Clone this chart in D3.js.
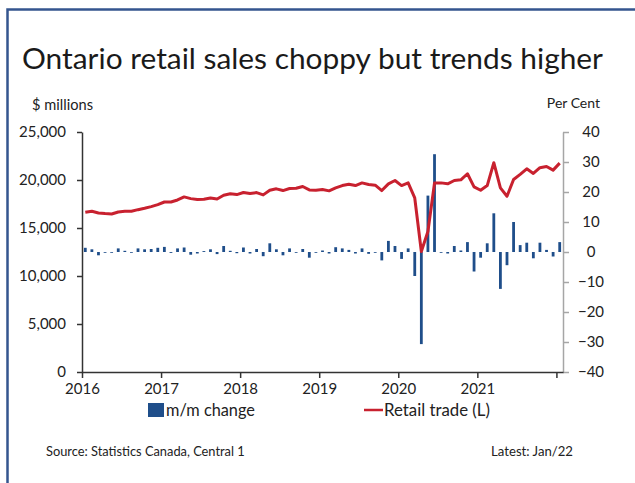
<!DOCTYPE html>
<html>
<head>
<meta charset="utf-8">
<script src="https://cdn.jsdelivr.net/npm/d3@7"></script>
<style>
  html, body { margin: 0; padding: 0; background: #fff; }
  svg { display: block; font-family: "Lato", "Open Sans", sans-serif; }
</style>
</head>
<body>
<svg id="chart" width="635" height="483"></svg>
<script>
// monthly, Jan 2016 .. Jan 2022
const yearLabels = ["2016", "2017", "2018", "2019", "2020", "2021", ""];
// retail trade, $ millions (left axis)
const retailTrade = [
  16630, 16740, 16570, 16500, 16460, 16670, 16740, 16740, 16910, 17060, 17230, 17440,
  17710, 17710, 17920, 18240, 18060, 17960, 17990, 18130, 18020, 18410, 18560, 18480,
  18700, 18590, 18690, 18450, 18930, 19080, 18900, 19110, 19140, 19320, 18970, 18940,
  19010, 18870, 19180, 19420, 19560, 19420, 19700, 19530, 19460, 18900, 19600, 19950,
  19420, 19700, 18130, 12550, 14640, 19700, 19700, 19600, 19950, 20020, 20650, 19290,
  18930, 19420, 21800, 19180, 18310, 20050, 20580, 21170, 20680, 21280, 21410, 21030,
  21760
];
// m/m change, per cent (right axis)
const momChange = [
  1.4, 0.9, -1.1, -0.2, -0.2, 1.2, 0.4, -0.2, 1.2, 0.9, 1.0, 1.4,
  1.7, -0.3, 1.2, 1.5, -0.9, -0.5, 0.3, 0.9, -0.7, 2.0, 0.4, -0.4,
  1.5, -0.5, 1.0, -1.4, 2.9, 0.9, -1.1, 1.2, -0.1, 1.0, -1.9, -0.2,
  0.5, -0.5, 1.6, 1.2, 0.7, -0.5, 1.2, -0.6, -0.2, -2.8, 3.7, 2.0,
  -2.3, 1.2, -8.0, -30.7, 18.8, 32.6, -0.1, -0.5, 2.0, 0.5, 3.3, -6.5,
  -1.9, 2.9, 12.9, -12.3, -4.4, 10.0, 2.3, 3.1, -2.1, 3.1, 0.7, -1.5,
  3.3
];
const leftTicks = [0, 5000, 10000, 15000, 20000, 25000];
const rightTicks = [-40, -30, -20, -10, 0, 10, 20, 30, 40];

const svg = d3.select("#chart");
const plot = { left: 82, right: 563, top: 132, bottom: 372 };

const blue = "#1f4e8a";
const red = "#c8212f";

// outer frame (left + top rule)
svg.append("path")
  .attr("d", "M7.5,483 V9.5 H635")
  .attr("fill", "none")
  .attr("stroke", "#34558f")
  .attr("stroke-width", 2.5);

// fit a text to a width seen in the reference
function fit(sel, size, w) {
  sel.attr("font-size", size);
  const tw = sel.node().getComputedTextLength();
  sel.attr("font-size", size * w / tw);
  return sel;
}

fit(svg.append("text")
  .attr("x", 22)
  .attr("y", 69)
  .attr("fill", "#1a1a1a")
  .text("Ontario retail sales choppy but trends higher"), 30, 581);

fit(svg.append("text").attr("x", 32).attr("y", 110)
  .attr("fill", "#222").text("$ millions"), 14, 61);
svg.append("text").attr("x", 600).attr("y", 108).attr("text-anchor", "end")
  .attr("font-size", 14).attr("fill", "#222").text("Per Cent");

const x = d3.scaleLinear().domain([0, retailTrade.length]).range([plot.left, plot.right]);
const yL = d3.scaleLinear().domain([0, 25000]).range([plot.bottom, plot.top]);
const yR = d3.scaleLinear().domain([-40, 40]).range([plot.bottom, plot.top]);

// bars
const barW = 2.8;
svg.append("g")
  .selectAll("rect")
  .data(momChange)
  .join("rect")
  .attr("x", (d, i) => x(i + 0.5) - barW / 2)
  .attr("width", barW)
  .attr("y", d => yR(Math.max(0, d)))
  .attr("height", d => Math.max(0.8, Math.abs(yR(d) - yR(0))))
  .attr("fill", blue);

// line
svg.append("path")
  .datum(retailTrade)
  .attr("fill", "none")
  .attr("stroke", red)
  .attr("stroke-width", 3)
  .attr("stroke-linejoin", "round")
  .attr("d", d3.line().x((d, i) => x(i + 0.5)).y(d => yL(d)));

// left axis
svg.append("g")
  .attr("transform", `translate(${plot.left},0)`)
  .call(d3.axisLeft(yL).tickValues(leftTicks).tickFormat(d3.format(",")).tickSize(5).tickSizeOuter(0).tickPadding(11))
  .call(g => g.select(".domain").attr("stroke", "#333").attr("stroke-width", 1.5))
  .call(g => g.selectAll(".tick line").attr("stroke", "#333").attr("stroke-width", 1.5))
  .call(g => g.selectAll("text").attr("font-size", 15).attr("fill", "#222").attr("font-family", "Lato"));

// right axis
svg.append("g")
  .attr("transform", `translate(${plot.right},0)`)
  .call(d3.axisRight(yR).tickValues(rightTicks).tickSize(6).tickSizeOuter(0).tickPadding(0))
  .call(g => g.select(".domain").attr("stroke", "#a6a6a6").attr("stroke-width", 1.5))
  .call(g => g.selectAll(".tick line").attr("stroke", "#a6a6a6").attr("stroke-width", 1.5))
  .call(g => g.selectAll("text").attr("x", 28).attr("text-anchor", "middle")
    .attr("font-size", 15).attr("fill", "#222").attr("font-family", "Lato"));

// bottom axis
svg.append("g")
  .attr("transform", `translate(0,${plot.bottom})`)
  .call(d3.axisBottom(x).tickValues(d3.range(0, retailTrade.length, 12))
    .tickFormat((d, i) => yearLabels[i]).tickSize(6).tickSizeOuter(0).tickPadding(5))
  .call(g => g.select(".domain").attr("stroke", "#333").attr("stroke-width", 1.5))
  .call(g => g.selectAll(".tick line").attr("stroke", "#333").attr("stroke-width", 1.5))
  .call(g => g.selectAll("text").attr("font-size", 15).attr("fill", "#222").attr("font-family", "Lato"));

// legend
const legend = svg.append("g").attr("fill", "#222");
legend.append("rect").attr("x", 148).attr("y", 403).attr("width", 16).attr("height", 14).attr("fill", blue);
fit(legend.append("text").attr("x", 166).attr("y", 416).text("m/m change"), 16, 89);
legend.append("line").attr("x1", 364).attr("x2", 383).attr("y1", 410).attr("y2", 410)
  .attr("stroke", red).attr("stroke-width", 2.5);
fit(legend.append("text").attr("x", 384).attr("y", 416).text("Retail trade (L)"), 16, 106);

// footer
fit(svg.append("text").attr("x", 46).attr("y", 456).attr("fill", "#222")
  .text("Source: Statistics Canada, Central 1"), 13, 199);
fit(svg.append("text").attr("x", 573).attr("y", 456).attr("text-anchor", "end").attr("fill", "#222")
  .text("Latest: Jan/22"), 13, 82);
</script>
</body>
</html>
